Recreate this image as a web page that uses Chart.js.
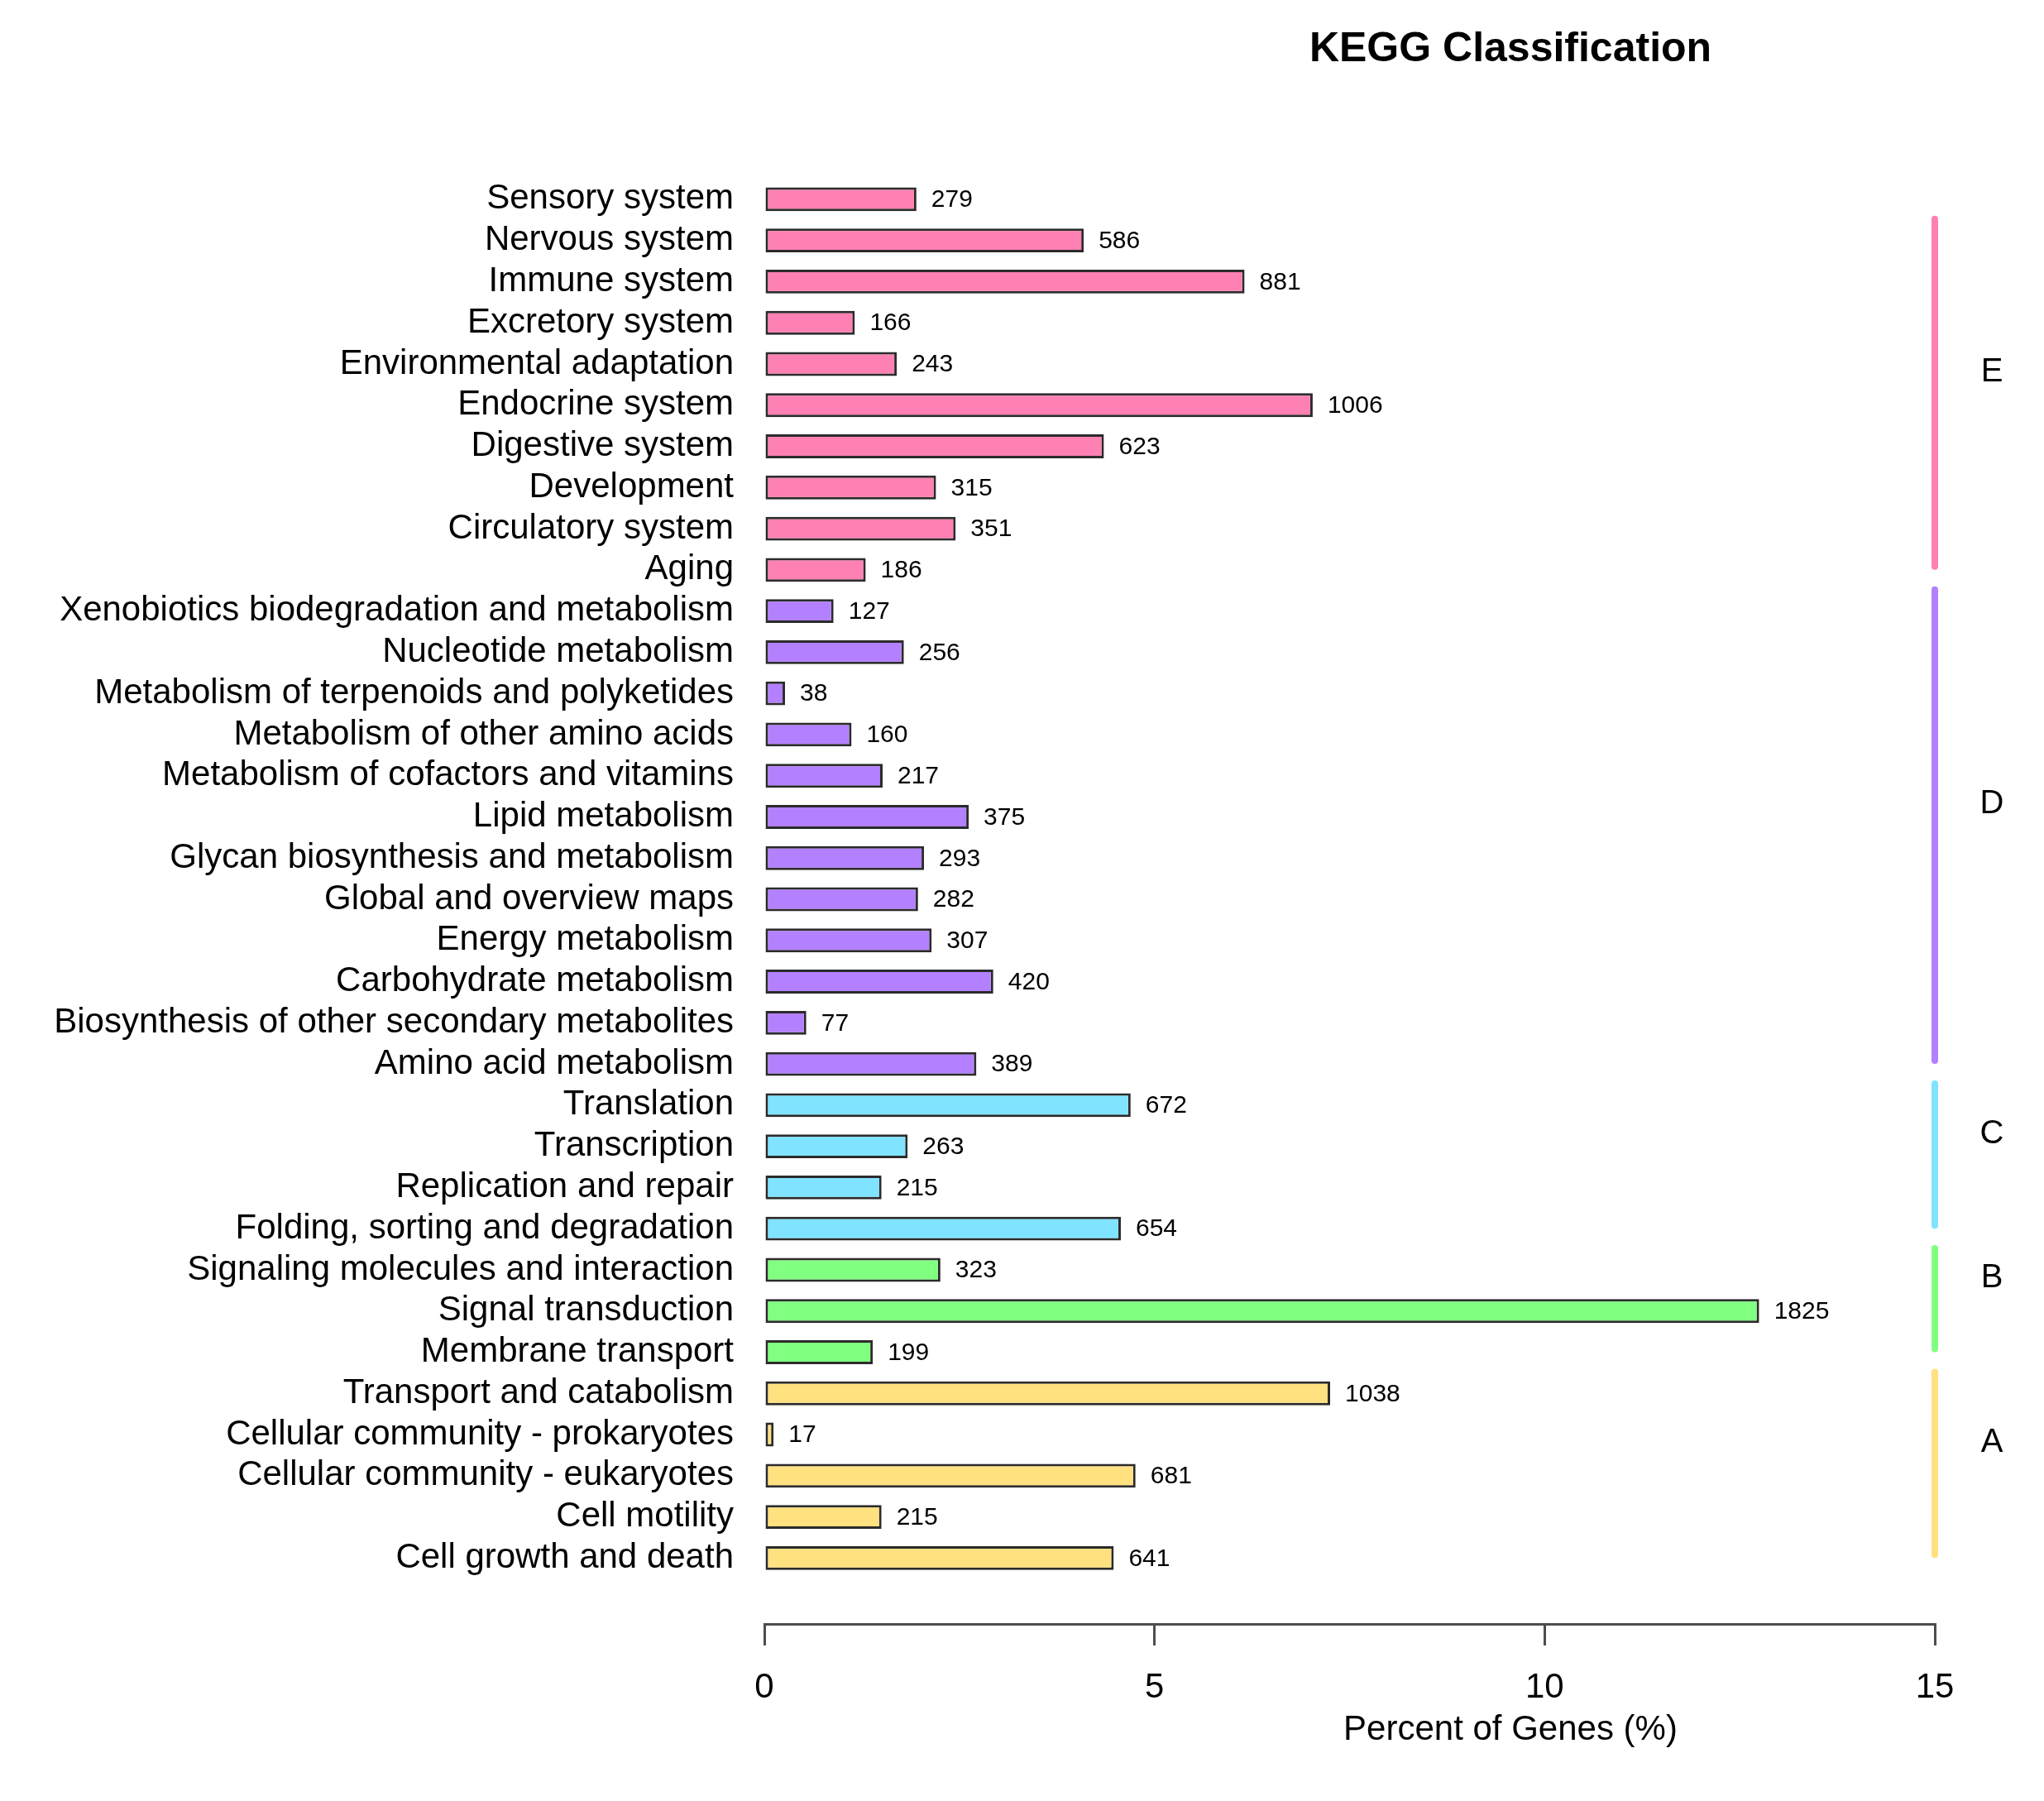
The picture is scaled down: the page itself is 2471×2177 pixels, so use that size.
<!DOCTYPE html>
<html>
<head>
<meta charset="utf-8">
<title>KEGG Classification</title>
<script src="https://cdn.jsdelivr.net/npm/chart.js@4.4.1/dist/chart.umd.min.js"></script>
<style>
  html, body { margin: 0; padding: 0; background: #fff; }
  #wrap { width: 2471px; height: 2177px; position: relative; }
</style>
</head>
<body>
<div id="wrap"><canvas id="kegg-chart"></canvas></div>
<script>
// KEGG classes, top to bottom as drawn
const categories = [
  "Sensory system", "Nervous system", "Immune system", "Excretory system",
  "Environmental adaptation", "Endocrine system", "Digestive system",
  "Development", "Circulatory system", "Aging",
  "Xenobiotics biodegradation and metabolism", "Nucleotide metabolism",
  "Metabolism of terpenoids and polyketides", "Metabolism of other amino acids",
  "Metabolism of cofactors and vitamins", "Lipid metabolism",
  "Glycan biosynthesis and metabolism", "Global and overview maps",
  "Energy metabolism", "Carbohydrate metabolism",
  "Biosynthesis of other secondary metabolites", "Amino acid metabolism",
  "Translation", "Transcription", "Replication and repair",
  "Folding, sorting and degradation",
  "Signaling molecules and interaction", "Signal transduction", "Membrane transport",
  "Transport and catabolism", "Cellular community - prokaryotes",
  "Cellular community - eukaryotes", "Cell motility", "Cell growth and death"
];
const geneCounts = [
  279, 586, 881, 166, 243, 1006, 623, 315, 351, 186,
  127, 256, 38, 160, 217, 375, 293, 282, 307, 420, 77, 389,
  672, 263, 215, 654,
  323, 1825, 199,
  1038, 17, 681, 215, 641
];
const totalGenes = 14315;   // annotated genes, bar length = count / total
const groupNames = ["E", "D", "C", "B", "A"];
const groupSizes = [10, 12, 4, 3, 5];
const groupColors = ["#ff80b3", "#b380ff", "#80e3ff", "#80ff80", "#ffe180"];
const xTicks = [0, 5, 10, 15];

const FONT = "'Liberation Sans', Arial, Helvetica, sans-serif";

// colour of each bar from its group
const barColors = [];
groupSizes.forEach((n, g) => { for (let i = 0; i < n; i++) barColors.push(groupColors[g]); });

const points = geneCounts.map((c, i) => ({ x: c / totalGenes * 100, y: i }));

// no extra label padding, keep the plot box where the layout puts it
function noPad(s) {
  s.paddingTop = 0; s.paddingBottom = 0; s.paddingLeft = 0; s.paddingRight = 0;
}

const decorations = {
  id: 'decorations',
  afterDatasetsDraw(chart) {
    const ctx = chart.ctx;
    const meta = chart.getDatasetMeta(0);
    ctx.save();
    ctx.fillStyle = '#000';
    ctx.font = '30px ' + FONT;
    ctx.textAlign = 'left';
    ctx.textBaseline = 'middle';
    meta.data.forEach((bar, i) => {
      ctx.fillText(String(geneCounts[i]), bar.x + 18, bar.y + 1);
    });
    ctx.restore();
  },
  afterDraw(chart) {
    const ctx = chart.ctx;
    const ys = chart.scales.y;
    const xs = chart.scales.x;
    ctx.save();

    // group bars on the right: from a bit above the first row to the last row
    const lineX = xs.getPixelForValue(15);
    let first = 0;
    groupSizes.forEach((n, g) => {
      const last = first + n - 1;
      const y0 = ys.getPixelForValue(Math.max(first - 0.6, 0.4));
      const y1 = ys.getPixelForValue(last);
      ctx.strokeStyle = groupColors[g];
      ctx.lineWidth = 8;
      ctx.lineCap = 'round';
      ctx.beginPath();
      ctx.moveTo(lineX, y0 + 4);
      ctx.lineTo(lineX, y1 - 4);
      ctx.stroke();
      ctx.fillStyle = '#000';
      ctx.font = '40px ' + FONT;
      ctx.textAlign = 'center';
      ctx.textBaseline = 'alphabetic';
      ctx.fillText(groupNames[g], lineX + 69, (y0 + y1) / 2 - 14);
      first = last + 1;
    });

    // title and x axis title
    ctx.fillStyle = '#000';
    ctx.textAlign = 'center';
    ctx.textBaseline = 'middle';
    ctx.font = 'bold 50px ' + FONT;
    ctx.fillText('KEGG Classification', 1826, 60);
    ctx.font = '42px ' + FONT;
    ctx.fillText('Percent of Genes (%)', 1826, 2091);
    ctx.restore();
  }
};

new Chart(document.getElementById('kegg-chart'), {
  type: 'bar',
  data: {
    datasets: [{
      data: points,
      backgroundColor: barColors,
      borderColor: '#2b2b2b',
      borderWidth: 3,
      borderSkipped: false,
      categoryPercentage: 1,
      barPercentage: 0.58
    }]
  },
  options: {
    indexAxis: 'y',
    responsive: true,
    maintainAspectRatio: false,
    devicePixelRatio: 1,
    animation: false,
    layout: { padding: { top: 216, right: 132, bottom: 104, left: 0 } },
    plugins: {
      legend: { display: false },
      tooltip: { enabled: false },
      title: { display: false }
    },
    scales: {
      y: {
        type: 'linear',
        reverse: true,
        offset: false,
        min: -0.5,
        max: 34.6,
        afterBuildTicks: s => { s.ticks = categories.map((_, i) => ({ value: i })); },
        afterFit: s => { s.width = 924; noPad(s); },
        grid: { display: false, drawTicks: false, offset: false },
        border: { display: false },
        ticks: {
          autoSkip: false,
          padding: 37,
          color: '#000',
          font: { size: 42, family: FONT, lineHeight: 1 },
          callback: v => categories[v]
        }
      },
      x: {
        type: 'linear',
        min: 0,
        max: 15,
        position: 'bottom',
        afterBuildTicks: s => { s.ticks = xTicks.map(v => ({ value: v })); },
        afterFit: s => { s.height = 110; noPad(s); },
        grid: { display: true, drawOnChartArea: false, drawTicks: true, tickLength: 26, color: '#4d4d4d', lineWidth: 3 },
        border: { display: true, color: '#4d4d4d', width: 3 },
        ticks: {
          color: '#000',
          padding: 26,
          font: { size: 42, family: FONT }
        }
      }
    }
  },
  plugins: [decorations]
});
</script>
</body>
</html>
